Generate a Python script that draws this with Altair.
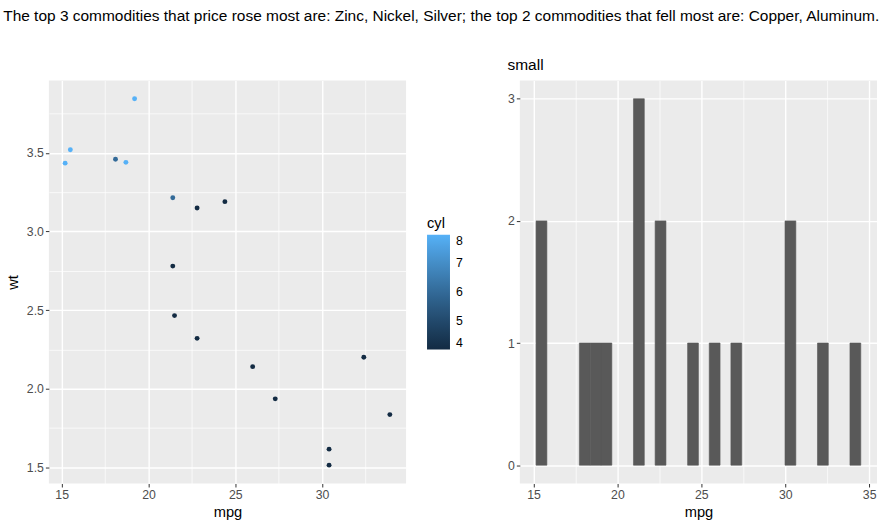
import math
import altair as alt
import pandas as pd

# ---- data (mtcars subset) ----
mpg = [15.2, 15.5, 19.2, 18.1, 18.7, 21.4, 22.8, 24.4, 21.4, 21.5, 22.8, 26.0, 27.3, 30.4, 30.4, 32.4, 33.9]
wt = [3.435, 3.52, 3.845, 3.46, 3.44, 3.215, 3.15, 3.19, 2.78, 2.465, 2.32, 2.14, 1.935, 1.615, 1.513, 2.2, 1.835]
cyl = [8, 8, 8, 6, 8, 6, 4, 4, 4, 4, 4, 4, 4, 4, 4, 4, 4]

x_major = [15, 20, 25, 30]
x_minor = [17.5, 22.5, 27.5, 32.5]
wt_major = [1.5, 2.0, 2.5, 3.0, 3.5]
wt_minor = [1.75, 2.25, 2.75, 3.25, 3.75]
hist_x_major = [15, 20, 25, 30, 35]
count_major = [0, 1, 2, 3]
count_minor = [0.5, 1.5, 2.5]
cyl_ticks = [4, 5, 6, 7, 8]

title_text = ("The top 3 commodities that price rose most are: Zinc, Nickel, Silver; "
              "the top 2 commodities that fell most are: Copper, Aluminum.")

df = pd.DataFrame({"mpg": mpg, "wt": wt, "cyl": cyl})

FONT = "Liberation Sans"


def expand(lo, hi, mult=0.05):
    d = (hi - lo) * mult
    return [lo - d, hi + d]


# ggplot2-style binning (30 bins)
n_bins = 30
lo, hi = min(mpg), max(mpg)
bw = (hi - lo) / (n_bins - 1)
boundary = bw / 2
origin = boundary + math.floor((lo - boundary) / bw) * bw
hist_lo, hist_hi = origin, origin + n_bins * bw


def gg_axis(values, test, fmt, title, title_pad=3):
    return alt.Axis(
        values=values,
        grid=True,
        gridColor="white",
        gridWidth={"condition": {"test": test, "value": 1.4}, "value": 0.7},
        labelExpr=f"({test}) ? datum.label : ''",
        tickOpacity={"condition": {"test": test, "value": 1}, "value": 0},
        tickColor="#333333",
        tickSize=3.5,
        tickWidth=1,
        labelColor="#4D4D4D",
        labelFontSize=12.3,
        labelFont=FONT,
        labelPadding=2,
        domain=False,
        format=fmt,
        title=title,
        titleFont=FONT,
        titleFontSize=14.7,
        titleFontWeight="normal",
        titleColor="black",
        titlePadding=title_pad,
    )


x_test = "datum.value % 5 === 0"
wt_test = "abs(datum.value * 2 - round(datum.value * 2)) < 1e-6"
cnt_test = "abs(datum.value - round(datum.value)) < 1e-6"

view_bg = alt.ViewBackground(fill="#EBEBEB", strokeWidth=0)

scatter = alt.Chart(df).mark_circle(size=24, opacity=1).encode(
    x=alt.X("mpg:Q",
            scale=alt.Scale(domain=expand(lo, hi), nice=False, zero=False),
            axis=gg_axis(x_major + x_minor, x_test, "d", "mpg")),
    y=alt.Y("wt:Q",
            scale=alt.Scale(domain=expand(min(wt), max(wt)), nice=False, zero=False),
            axis=gg_axis(wt_major + wt_minor, wt_test, ".1f", "wt", title_pad=6)),
    color=alt.Color("cyl:Q",
                    scale=alt.Scale(domain=[4, 8], range=["#132B43", "#56B1F7"], interpolate="lab"),
                    legend=alt.Legend(
                        title="cyl", orient="none", legendX=379, legendY=136,
                        gradientLength=115, gradientThickness=23, gradientStrokeWidth=0,
                        values=cyl_ticks, labelFont=FONT, labelFontSize=12.3, labelColor="black",
                        labelOffset=6, titleFont=FONT, titleFontSize=14.7, titleFontWeight="normal",
                        titleColor="black", titlePadding=4)),
).properties(width=358, height=404, view=view_bg)

hist = alt.Chart(df).transform_calculate(
    b=f"ceil((datum.mpg - {origin}) / {bw}) - 1"
).transform_aggregate(
    count="count()", groupby=["b"]
).transform_calculate(
    x0=f"{origin} + datum.b * {bw}",
    x1=f"{origin} + (datum.b + 1) * {bw}",
).mark_rect(color="#595959", stroke="#595959", strokeWidth=0.6).encode(
    x=alt.X("x0:Q",
            scale=alt.Scale(domain=expand(hist_lo, hist_hi), nice=False, zero=False),
            axis=gg_axis(hist_x_major + x_minor, x_test, "d", "mpg")),
    x2="x1:Q",
    y=alt.Y("count:Q",
            scale=alt.Scale(domain=expand(0, max(count_major)), nice=False, zero=False),
            axis=gg_axis(count_major + count_minor, cnt_test, "d", "")),
    y2=alt.datum(0),
).properties(
    width=358, height=404, view=view_bg,
    title=alt.TitleParams("small", anchor="start", font=FONT, fontSize=15.5,
                          fontWeight="normal", color="black", offset=7),
)

chart = alt.hconcat(scatter, hist, spacing=44).resolve_legend(color="independent").properties(
    title=alt.TitleParams(title_text, anchor="middle", font=FONT, fontSize=15.5,
                          fontWeight="normal", color="black", offset=34),
).configure(
    padding={"left": 2, "top": 8, "right": 5, "bottom": 5},
    background="white",
).configure_view(fill="#EBEBEB", strokeWidth=0)

chart.save("out.html", embed_options={"renderer": "svg", "actions": False})
